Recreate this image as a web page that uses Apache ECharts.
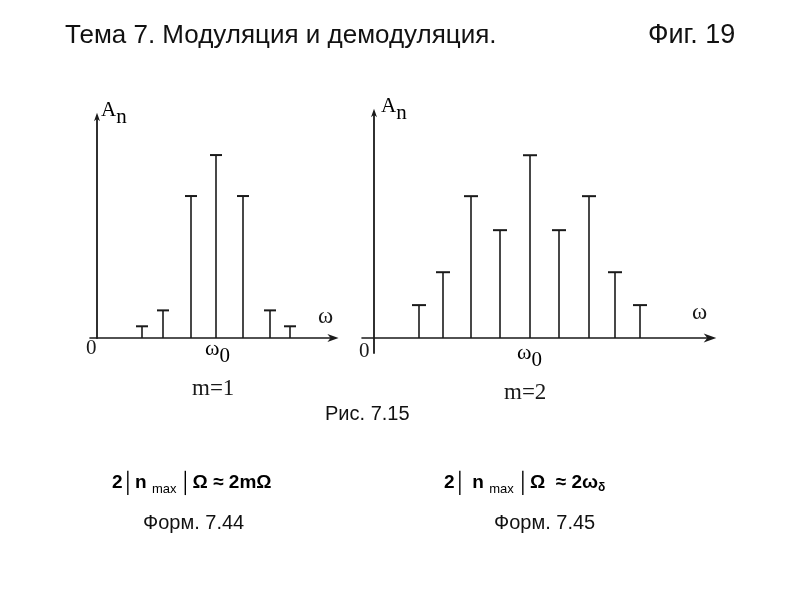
<!DOCTYPE html>
<html><head><meta charset="utf-8">
<script src="https://cdn.jsdelivr.net/npm/echarts@6/dist/echarts.min.js"></script>
<style>html,body{margin:0;padding:0;background:#fff}#c{width:800px;height:600px}</style>
</head><body><div id="c"></div>
<script>
// ---- data ----
// Left spectrum (m = 1): frequency positions (arbitrary units, origin = 0) and normalised amplitudes
const freqM1 = [45, 66, 94, 119, 146, 173, 193];
const ampM1  = [0.064, 0.151, 0.776, 1.0, 0.776, 0.151, 0.064];
// Right spectrum (m = 2)
const freqM2 = [45, 69, 97, 126, 156, 185, 215, 241, 266];
const ampM2  = [0.18, 0.36, 0.776, 0.59, 1.0, 0.59, 0.776, 0.36, 0.18];
// texts
const titleText = 'Тема 7. Модуляция и демодуляция.';
const figText = 'Фиг. 19';
const captionsM = ['m=1', 'm=2'];
const figCaption = 'Рис. 7.15';
const formLabels = ['Форм. 7.44', 'Форм. 7.45'];

const ink = '#1a1a1a';
const serif = '"Liberation Serif","DejaVu Serif",serif';
const sans = '"Liberation Sans",Arial,sans-serif';
const arrowPath = 'path://M5,0 L10,14 L5,10 L0,14 Z';

function stems(cap) {
  return function (params, api) {
    const x = api.value(0), y = api.value(1);
    const b = api.coord([x, 0]), t = api.coord([x, y]);
    return {type: 'group', children: [
      {type: 'line', shape: {x1: b[0], y1: b[1], x2: t[0], y2: t[1]}, style: {stroke: ink, lineWidth: 1.6}},
      {type: 'line', shape: {x1: t[0] - cap / 2, y1: t[1], x2: t[0] + cap / 2, y2: t[1]}, style: {stroke: ink, lineWidth: 2}}
    ]};
  };
}
function axisCommon(extra) {
  return Object.assign({
    type: 'value', splitLine: {show: false}, axisTick: {show: false}, axisLabel: {show: false}
  }, extra);
}

const chart = echarts.init(document.getElementById('c'), null, {renderer: 'canvas'});
const subRich = {
  b: {fontFamily: serif, fontSize: 21, color: ink},
  s: {fontFamily: serif, fontSize: 21, color: ink, padding: [14, 0, 0, 0]}
};
const fRich = {
  n: {fontFamily: sans, fontSize: 19, fontWeight: 'bold', color: '#111'},
  bar: {fontFamily: sans, fontSize: 20, color: '#aaa'},
  sub: {fontFamily: sans, fontSize: 13, color: '#111', padding: [12, 0, 0, 0]},
  subd: {fontFamily: sans, fontSize: 12, fontWeight: 'bold', color: '#111', padding: [10, 0, 0, 0]}
};

chart.setOption({
  backgroundColor: '#fff',
  animation: false,
  grid: [
    {left: 90, right: 467, top: 117, bottom: 262},
    {left: 362, right: 90, top: 113, bottom: 247}
  ],
  xAxis: [
    axisCommon({gridIndex: 0, min: -7, max: 236,
      axisLine: {onZero: true, symbol: ['none', arrowPath], symbolSize: [8, 14], lineStyle: {color: ink, width: 1.6}}}),
    axisCommon({gridIndex: 1, min: -12, max: 336,
      axisLine: {onZero: true, symbol: ['none', arrowPath], symbolSize: [9, 16], lineStyle: {color: ink, width: 1.6}}})
  ],
  yAxis: [
    axisCommon({gridIndex: 0, min: 0, max: 1.208,
      axisLine: {onZero: true, symbol: ['none', arrowPath], symbolSize: [6, 14], lineStyle: {color: ink, width: 1.8}}}),
    axisCommon({gridIndex: 1, min: -0.082, max: 1.231,
      axisLine: {onZero: true, symbol: ['none', arrowPath], symbolSize: [6, 14], lineStyle: {color: ink, width: 1.8}}})
  ],
  series: [
    {type: 'custom', xAxisIndex: 0, yAxisIndex: 0, renderItem: stems(12),
     data: freqM1.map((f, i) => [f, ampM1[i]])},
    {type: 'custom', xAxisIndex: 1, yAxisIndex: 1, renderItem: stems(14),
     data: freqM2.map((f, i) => [f, ampM2[i]])}
  ],
  graphic: [
    {type: 'text', left: 65, top: 23, style: {text: titleText, font: '26px ' + sans, fill: '#111'}},
    {type: 'text', left: 648, top: 22, style: {text: figText, font: '27px ' + sans, fill: '#111'}},
    // axis names left
    {type: 'text', left: 101, top: 100, style: {text: '{b|A}{s|n}', rich: subRich}},
    {type: 'text', left: 318, top: 305, style: {text: 'ω', font: '23px ' + serif, fill: ink}},
    {type: 'text', left: 86, top: 338, style: {text: '0', font: '21px ' + serif, fill: ink}},
    {type: 'text', left: 205, top: 338, style: {text: '{b|ω}{s|0}', rich: {
      b: {fontFamily: serif, fontSize: 22, color: ink}, s: {fontFamily: serif, fontSize: 21, color: ink, padding: [14, 0, 0, 0]}}}},
    {type: 'text', left: 192, top: 377, style: {text: captionsM[0], font: '23px ' + serif, fill: ink}},
    // axis names right
    {type: 'text', left: 381, top: 96, style: {text: '{b|A}{s|n}', rich: subRich}},
    {type: 'text', left: 692, top: 301, style: {text: 'ω', font: '23px ' + serif, fill: ink}},
    {type: 'text', left: 359, top: 341, style: {text: '0', font: '21px ' + serif, fill: ink}},
    {type: 'text', left: 517, top: 342, style: {text: '{b|ω}{s|0}', rich: {
      b: {fontFamily: serif, fontSize: 22, color: ink}, s: {fontFamily: serif, fontSize: 21, color: ink, padding: [14, 0, 0, 0]}}}},
    {type: 'text', left: 504, top: 381, style: {text: captionsM[1], font: '23px ' + serif, fill: ink}},
    // captions
    {type: 'text', left: 325, top: 404, style: {text: figCaption, font: '20px ' + sans, fill: '#111'}},
    {type: 'text', left: 112, top: 473, style: {text: '{n|2}{bar|│}{n|n }{sub|max }{bar|│}{n|Ω ≈ 2mΩ}', rich: fRich}},
    {type: 'text', left: 143, top: 513, style: {text: formLabels[0], font: '20px ' + sans, fill: '#111'}},
    {type: 'text', left: 444, top: 473, style: {text: '{n|2}{bar|│}{n| n }{sub|max }{bar|│}{n|Ω  ≈ 2ω}{subd|δ}', rich: fRich}},
    {type: 'text', left: 494, top: 513, style: {text: formLabels[1], font: '20px ' + sans, fill: '#111'}}
  ]
});
</script></body></html>
